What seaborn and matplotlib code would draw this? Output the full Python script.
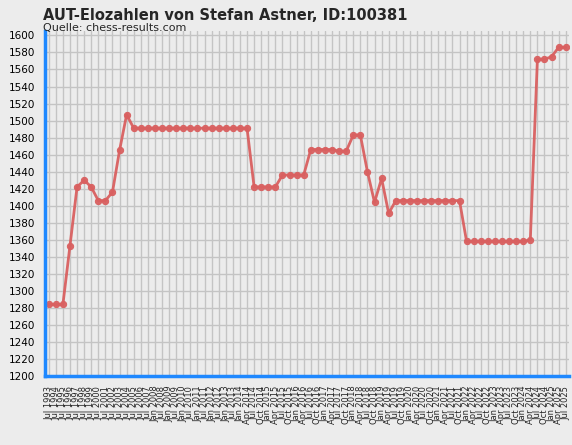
import matplotlib
matplotlib.use("Agg")
import matplotlib.pyplot as plt
import seaborn as sns
import pandas as pd

elo = [1284, 1284, 1284, 1353, 1422, 1430, 1422, 1406, 1406, 1416, 1465, 1507,
       1491, 1491, 1491, 1491, 1491, 1491, 1491, 1491, 1491, 1491, 1491, 1491,
       1491, 1491, 1491, 1491, 1491,
       1422, 1422, 1422, 1422,
       1436, 1436, 1436, 1436,
       1466, 1466, 1466, 1466, 1464, 1464, 1483, 1483, 1440, 1404, 1432, 1391,
       1406, 1406, 1406, 1406, 1406, 1406, 1406, 1406, 1406, 1406,
       1358, 1358, 1358, 1358, 1358, 1358, 1358, 1358, 1358, 1360,
       1572, 1572, 1575, 1586, 1586]

labels = ([f"Jul {y}" for y in range(1993, 2008)]
          + [f"{m} {y}" for y in range(2008, 2014) for m in ("Jan", "Jul")]
          + [f"{m} {y}" for y in range(2014, 2026) for m in ("Jan", "Apr", "Jul", "Oct")][:-1])
labels = labels[-len(elo):]

df = pd.DataFrame({"i": range(len(elo)), "elo": elo})

sns.set_style("whitegrid")
plt.rcParams['font.family'] = ['DejaVu Sans']
fig = plt.figure(figsize=(5.72, 4.45), dpi=100, facecolor="#ececec")
ax = fig.add_axes([0.079, 0.155, 0.915, 0.775])
ax.set_facecolor("#ececec")
sns.lineplot(data=df, x="i", y="elo", ax=ax, color="#d96060", lw=2, marker="o",
             markersize=4.5, markeredgecolor="#d96060", alpha=0.95)
ax.set_xlim(-0.5, len(elo) - 0.6)
ax.set_ylim(1200, 1605)
ax.set_yticks(range(1200, 1601, 20))
ax.set_xticks(range(len(elo)))
ax.set_xticklabels(labels, rotation=90, fontsize=6)
ax.tick_params(axis="y", labelsize=7.5, colors="black", length=4, color="#1e88ff", width=2)
ax.tick_params(axis="x", length=5, color="#1e88ff", width=1.5, pad=2)
ax.grid(True, color="#c4c4c4", lw=1)
for s in ("top", "right"):
    ax.spines[s].set_visible(False)
for s in ("left", "bottom"):
    ax.spines[s].set_color("#1e88ff")
    ax.spines[s].set_linewidth(2.5)
ax.set_xlabel("")
ax.set_ylabel("")
fig.text(0.075, 0.965, "AUT-Elozahlen von Stefan Astner, ID:100381", fontsize=10.5,
         fontweight="bold", va="center")
fig.text(0.075, 0.937, "Quelle: chess-results.com", fontsize=8, va="center")
fig.savefig("out.png", dpi=100, facecolor="#ececec")
